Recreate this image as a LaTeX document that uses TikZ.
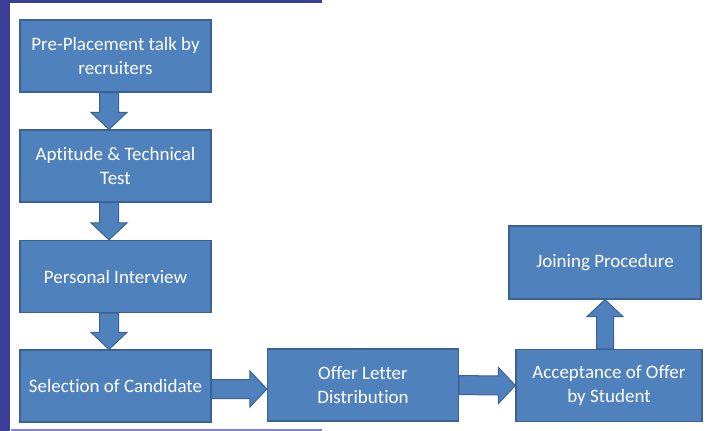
\documentclass[tikz,border=0pt]{standalone}
\usepackage{fontspec}
\setmainfont{Carlito}[Ligatures={NoCommon}]
\usetikzlibrary{calc}
\definecolor{boxblue}{HTML}{4F81BD}
\definecolor{boxedge}{HTML}{3A6394}
\definecolor{band}{HTML}{3B3E96}
\definecolor{bandlight}{HTML}{8182D0}
\newcommand\arrdown[2]{\path[barrow] ($(#1)+(-9.5,0)$) -- ($(#1)+(9.5,0)$) -- ($(#2)+(9.5,-17)$) -- ($(#2)+(18,-17)$) -- (#2) -- ($(#2)+(-18,-17)$) -- ($(#2)+(-9.5,-17)$) -- cycle;}
\newcommand\arrup[2]{\path[barrow] ($(#1)+(-8.5,0)$) -- ($(#1)+(8.5,0)$) -- ($(#2)+(8.5,17)$) -- ($(#2)+(18,17)$) -- (#2) -- ($(#2)+(-18,17)$) -- ($(#2)+(-8.5,17)$) -- cycle;}
\newcommand\arrright[2]{\path[barrow] ($(#1)+(0,-9.5)$) -- ($(#2)+(-17,-9.5)$) -- ($(#2)+(-17,-18)$) -- (#2) -- ($(#2)+(-17,18)$) -- ($(#2)+(-17,9.5)$) -- ($(#1)+(0,9.5)$) -- cycle;}
\begin{document}
\begin{tikzpicture}[x=1pt,y=-1pt,
  stepbox/.style={draw=boxedge, fill=boxblue, line width=1.2pt, text=white,
    font=\fontsize{19}{23.6}\selectfont, align=center, inner sep=0pt,
    minimum width=191pt, minimum height=72pt},
  barrow/.style={draw=boxedge, fill=boxblue, line width=1pt, line join=miter}]
\useasboundingbox (0,0) rectangle (710,431);
\fill[white] (0,0) rectangle (710,431);
\fill[band] (0,0) rectangle (10,431);
\fill[band] (0,0) rectangle (322,3);
\fill[bandlight] (11,429) rectangle (322,431);

\node[stepbox] (b1) at (115.5,56) {Pre-Placement talk by\\recruiters};
\node[stepbox] (b2) at (115.5,166) {Aptitude \& Technical\\Test};
\node[stepbox] (b3) at (115.5,276.5) {Personal Interview};
\node[stepbox] (b4) at (115.5,386) {Selection of Candidate};
\node[stepbox] (b5) at (363,385) {Offer Letter\\Distribution};
\node[stepbox, minimum width=186pt] (b6) at (609,385.5) {Acceptance of Offer\\by Student};
\node[stepbox, minimum width=192pt, minimum height=73pt] (b7) at (605,262.5) {Joining Procedure};

\coordinate (a1s) at ($(b1.south)+(-6.5,0)$);
\coordinate (a1e) at ($(b2.north)+(-6.5,0)$);
\coordinate (a2s) at ($(b2.south)+(-6.5,0)$);
\coordinate (a2e) at ($(b3.north)+(-6.5,0)$);
\coordinate (a3s) at ($(b3.south)+(-6.5,0)$);
\coordinate (a3e) at ($(b4.north)+(-6.5,0)$);
\coordinate (a4s) at ($(b4.east)+(0,3)$);
\coordinate (a4e) at ($(b5.west)+(0,4)$);
\coordinate (a6s) at ($(b6.north)+(-4,0)$);

\arrdown{a1s}{a1e}
\arrdown{a2s}{a2e}
\arrdown{a3s}{a3e}
\arrright{a4s}{a4e}
\arrright{b5.east}{b6.west}
\arrup{a6s}{b7.south}
\end{tikzpicture}
\end{document}
